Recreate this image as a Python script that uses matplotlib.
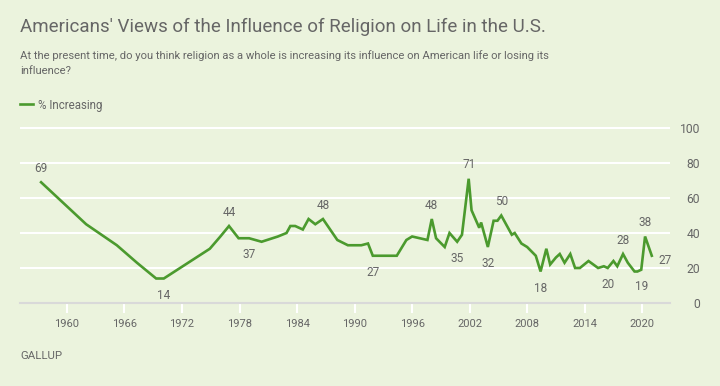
import matplotlib
matplotlib.use("Agg")
import matplotlib.pyplot as plt

# --- Data ---
years = [1957.3, 1962.0, 1965.2, 1967.3, 1969.3, 1970.1, 1974.9, 1976.0, 1976.9,
         1977.9, 1979.0, 1980.3, 1982.0, 1982.9, 1983.3, 1983.8, 1984.6, 1985.2,
         1985.9, 1986.7, 1988.2, 1989.3, 1990.7, 1991.4, 1991.9, 1994.4, 1995.4,
         1996.0, 1997.6, 1998.05, 1998.5, 1999.4, 1999.9, 2000.7, 2001.2, 2001.9,
         2002.2, 2003.0, 2003.2, 2003.9, 2004.5, 2004.9, 2005.3, 2005.9, 2006.4,
         2006.7, 2007.4, 2008.0, 2008.9, 2009.4, 2010.0, 2010.4, 2011.0, 2011.4,
         2011.9, 2012.5, 2013.0, 2013.5, 2014.4, 2015.4, 2016.0, 2016.4, 2017.0,
         2017.4, 2018.0, 2018.5, 2019.2, 2019.5, 2019.9, 2020.3, 2021.0]
pct_increasing = [69, 45, 33, 23, 14, 14, 31, 38, 44,
                  37, 37, 35, 38, 40, 44, 44, 42, 48,
                  45, 48, 36, 33, 33, 34, 27, 27, 36,
                  38, 36, 48, 37, 32, 40, 35, 39, 71,
                  53, 43, 46, 32, 47, 47, 50, 44, 39,
                  40, 34, 32, 27, 18, 31, 22, 26, 28,
                  23, 28, 20, 20, 24, 20, 21, 20, 24,
                  21, 28, 23, 18, 18, 19, 38, 27]

# points that carry a value label: (index into the series, position)
labelled = [(0, "above"), (5, "below"), (8, "above"), (10, "below"), (19, "above"),
            (24, "below"), (29, "above"), (33, "below"), (35, "above"), (39, "below"),
            (42, "above"), (49, "below"), (61, "below"), (64, "above"), (68, "below"),
            (69, "above"), (70, "right")]

xtick_years = [1960, 1966, 1972, 1978, 1984, 1990, 1996, 2002, 2008, 2014, 2020]
ytick_vals = [0, 20, 40, 60, 80, 100]

title = "Americans' Views of the Influence of Religion on Life in the U.S."
subtitle = ("At the present time, do you think religion as a whole is increasing its influence on American life or losing its\n"
            "influence?")

# --- Style ---
BG = "#ebf3dd"
GREEN = "#4b9a2e"
TXT = "#666666"
W, H, DPI = 720, 386, 100
plt.rcParams["font.family"] = ["Roboto", "DejaVu Sans"]

fig = plt.figure(figsize=(W / DPI, H / DPI), dpi=DPI, facecolor=BG)

# axes box in pixels: x 20..670, y(0)=303, y(100)=128
ymax = 102
px_per_unit = (303 - 128) / 100
top_px = 303 - ymax * px_per_unit
ax = fig.add_axes([20 / W, 1 - 303 / H, 650 / W, (303 - top_px) / H])
ax.set_facecolor(BG)

ax.plot(years, pct_increasing, color=GREEN, lw=1.9, solid_joinstyle="miter", zorder=3,
        label="% Increasing")

for idx, pos in labelled:
    x, y = years[idx], pct_increasing[idx]
    if pos == "above":
        off = (0, 10)
    elif pos == "below":
        off = (0, -12)
    else:
        off = (9.5, -3.4)
    ax.annotate(str(y), (x, y), xytext=off, textcoords="offset points",
                ha="center", va="center", fontsize=8.5, color=TXT)

ax.set_xlim(1955.1, 2022.9)
ax.set_ylim(0, ymax)

ax.set_xticks(xtick_years)
ax.set_xticklabels([str(y) for y in xtick_years])
ax.set_yticks(ytick_vals)
ax.yaxis.tick_right()
ax.grid(axis="y", color="white", lw=1.5, zorder=1)
ax.set_axisbelow(True)

ax.tick_params(axis="x", direction="out", length=7.5, width=1.5, color="white",
               labelsize=8, labelcolor=TXT, pad=4)
# labels right-aligned at x=700 px, i.e. 30 px right of the axes
ax.tick_params(axis="y", length=0, labelsize=8.7, labelcolor=TXT, pad=30 * 72 / DPI)
for lab in ax.get_yticklabels():
    lab.set_horizontalalignment("right")

for side in ["top", "left", "right"]:
    ax.spines[side].set_visible(False)
ax.spines["bottom"].set_color("#d9d9d9")
ax.spines["bottom"].set_linewidth(1.5)
ax.spines["bottom"].set_zorder(2)

# --- Text ---
fig.text(20 / W, 1 - 27 / H, title, ha="left", va="center", fontsize=13.5, color=TXT)
fig.text(20 / W, 1 - 63 / H, subtitle, ha="left", va="center", fontsize=8.1, color=TXT,
         linespacing=1.7)
fig.text(20 / W, 1 - 356 / H, "GALLUP", ha="left", va="center", fontsize=8.2, color=TXT)

ax.legend(loc="center left", bbox_to_anchor=(20 / W, 1 - 105 / H),
          bbox_transform=fig.transFigure, frameon=False, borderpad=0, borderaxespad=0,
          handlelength=1.1, handletextpad=0.5, fontsize=8.3, labelcolor=TXT)

fig.savefig("out.png", dpi=DPI, facecolor=BG)
